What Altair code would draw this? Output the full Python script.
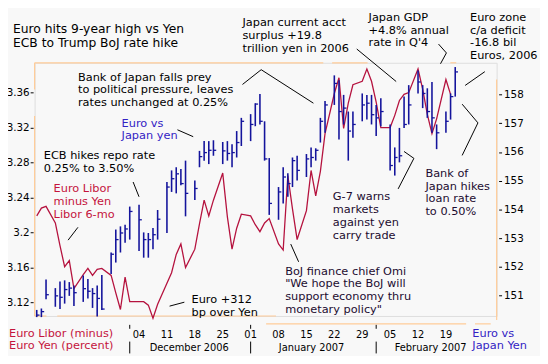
import altair as alt
import pandas as pd

# ---------------- data ----------------
dates = [
    "2006-11-08", "2006-11-09", "2006-11-10",
    "2006-11-13", "2006-11-14", "2006-11-15", "2006-11-16", "2006-11-17",
    "2006-11-20", "2006-11-21", "2006-11-22", "2006-11-23", "2006-11-24",
    "2006-11-27", "2006-11-28", "2006-11-29", "2006-11-30", "2006-12-01",
    "2006-12-04", "2006-12-05", "2006-12-06", "2006-12-07", "2006-12-08",
    "2006-12-11", "2006-12-12", "2006-12-13", "2006-12-14", "2006-12-15",
    "2006-12-18", "2006-12-19", "2006-12-20", "2006-12-21", "2006-12-22",
    "2006-12-25", "2006-12-26", "2006-12-27", "2006-12-28", "2006-12-29",
    "2007-01-01", "2007-01-02", "2007-01-03", "2007-01-04", "2007-01-05",
    "2007-01-08", "2007-01-09", "2007-01-10", "2007-01-11", "2007-01-12",
    "2007-01-15", "2007-01-16", "2007-01-17", "2007-01-18", "2007-01-19",
    "2007-01-22", "2007-01-23", "2007-01-24", "2007-01-25", "2007-01-26",
    "2007-01-29", "2007-01-30", "2007-01-31", "2007-02-01", "2007-02-02",
    "2007-02-05", "2007-02-06", "2007-02-07", "2007-02-08", "2007-02-09",
    "2007-02-12", "2007-02-13", "2007-02-14", "2007-02-15", "2007-02-16",
    "2007-02-19", "2007-02-20", "2007-02-21",
]

eur_high = [
    150.50, 150.55, 151.56,
    151.26, 151.49, 151.53, 151.47, 151.35,
    151.70, 151.58, 151.26, 151.35, 151.72,
    152.50, 153.30, 153.41, 153.47, 154.10,
    154.16, 153.20, 153.18, 153.35, 153.98,
    154.96, 155.36, 155.47, 155.41, 155.70,
    155.01, 156.04, 156.38, 156.38, 156.41,
    156.35, 156.38, 156.27, 156.73, 157.19,
    157.32, 157.70, 158.02, 157.07, 155.79,
    154.78, 155.47, 155.26, 155.81, 155.87,
    155.93, 156.16, 156.13, 157.19, 157.78,
    158.67, 158.50, 157.99, 157.41, 157.41,
    158.04, 157.99, 157.99, 157.64, 157.87,
    156.96, 156.16, 156.84, 157.93, 158.33,
    158.84, 158.33, 158.22, 158.44, 156.96,
    157.41, 158.04, 158.96,
]

eur_low = [
    150.25, 150.25, 150.87,
    150.61, 150.53, 150.72, 150.99, 150.64,
    150.78, 150.90, 150.57, 150.27, 150.50,
    151.75, 152.15, 152.50, 152.84, 152.95,
    152.55, 152.32, 152.32, 152.61, 152.95,
    153.18, 154.61, 154.56, 154.84, 153.76,
    154.33, 155.47, 155.70, 155.58, 155.87,
    155.58, 155.70, 155.47, 155.81, 156.21,
    156.38, 156.90, 156.96, 155.70, 153.81,
    153.64, 154.21, 154.44, 154.78, 155.01,
    155.13, 155.47, 155.70, 156.33, 156.67,
    157.64, 156.44, 156.96, 155.70, 156.50,
    157.07, 157.13, 156.96, 156.56, 156.90,
    155.36, 155.18, 155.64, 156.84, 156.96,
    158.04, 157.53, 157.19, 156.67, 156.10,
    156.67, 157.13, 157.93,
]

eur_close = [
    150.32, 150.44, 151.03,
    150.99, 150.94, 151.21, 151.26, 151.10,
    151.24, 151.15, 151.07, 150.90, 150.53,
    152.44, 152.95, 153.18, 153.32, 153.93,
    153.64, 152.95, 152.95, 153.12, 153.66,
    154.78, 155.07, 155.24, 154.90, 154.56,
    154.73, 155.84, 155.98, 156.06, 156.06,
    156.04, 155.95, 155.98, 156.33, 157.07,
    156.96, 157.67, 157.07, 155.76, 154.21,
    154.61, 155.13, 154.90, 155.70, 155.36,
    155.76, 155.81, 156.06, 157.07, 157.64,
    158.39, 157.41, 157.53, 156.73, 156.96,
    157.64, 157.70, 157.30, 157.19, 157.41,
    155.53, 155.81, 155.87, 156.96, 157.64,
    158.44, 158.04, 157.41, 157.19, 156.67,
    157.07, 157.93, 158.79,
]

# Euro Libor minus Yen Libor, 6-month (percent)
spread = [
    3.219, 3.228, 3.230,
    3.211, 3.185, 3.161, 3.168, 3.136,
    3.152, 3.159, 3.151, 3.158, 3.159,
    3.151, 3.131, 3.112, 3.149, 3.121,
    3.121, 3.121, 3.117, 3.102, 3.118,
    3.142, 3.154, 3.175, 3.187, 3.160,
    3.181, 3.210, 3.237, 3.219, 3.237,
    3.268, 3.218, 3.181, 3.205, 3.221,
    3.219, 3.209, 3.201, 3.211, 3.216,
    3.187, 3.180, 3.265, 3.227, 3.192,
    3.225, 3.271, 3.242, 3.270, 3.313,
    3.359, 3.377, 3.319, 3.348, 3.369,
    3.373, 3.387, 3.373, 3.349, 3.320,
    3.320, 3.334, 3.351, 3.358, 3.360,
    3.387, 3.364, 3.335, 3.313, 3.330,
    3.375, 3.358,
]

week_labels = ["04", "11", "18", "25", "01", "08", "15", "22", "29", "05", "12", "19"]
week_dates = ["2006-12-04", "2006-12-11", "2006-12-18", "2006-12-25", "2007-01-01",
              "2007-01-08", "2007-01-15", "2007-01-22", "2007-01-29", "2007-02-05",
              "2007-02-12", "2007-02-19"]
months = ["December 2006", "January 2007", "February 2007"]
month_starts = ["2006-12-01", "2007-01-01", "2007-02-01"]

left_ticks = [3.12, 3.16, 3.20, 3.24, 3.28, 3.32, 3.36]
right_ticks = [151, 152, 153, 154, 155, 156, 157, 158]


# trading-day slot: six slots per week, Monday of 4 Dec 2006 = 0
def slot(d):
    t = pd.Timestamp(d)
    delta = (t - pd.Timestamp("2006-12-04")).days
    return (delta // 7) * 6 + t.weekday()


bars = pd.DataFrame({
    "s": [slot(d) for d in dates],
    "hi": eur_high, "lo": eur_low, "c": eur_close,
})
line_df = pd.DataFrame({"s": [slot(d) for d in dates[:len(spread)]], "v": spread})

week_df = pd.DataFrame({"s": [slot(d) for d in week_dates], "t": week_labels})
sep_slots = [slot(d) if pd.Timestamp(d).weekday() < 5 else slot(d) + 7 for d in month_starts]
month_df = pd.DataFrame({"m": months, "s": [10.8, 37.1, 62.7]})
sep_df = pd.DataFrame({"s": sep_slots})

# ---------------- style ----------------
RED = "#b5123e"
BLUE = "#14149c"
TXT_BLUE = "#3322c4"
TXT_RED = "#c4143c"
ORANGE = "#ffcc99"
FONT = "DejaVu Sans"
W, H = 469, 257

xs = alt.Scale(domain=[-22.46, 76.91], nice=False, zero=False)
yl = alt.Scale(domain=[3.1046, 3.3941], nice=False, zero=False)
yr = alt.Scale(domain=[150.289, 159.108], nice=False, zero=False)

left_axis = alt.Axis(values=left_ticks, format=".2~f", domain=False, grid=False, title=None,
                     tickSize=3, offset=1.5, labelPadding=1, tickColor="black",
                     labelFontSize=10.5, labelColor="black", labelFont=FONT)
right_axis = alt.Axis(orient="right", values=right_ticks, format="d", domain=False, grid=False,
                      title=None, tickSize=3, offset=2, labelPadding=2, tickColor="black",
                      labelFontSize=10.5, labelColor="black", labelFont=FONT)

red_line = alt.Chart(line_df).mark_line(color=RED, strokeWidth=1.3).encode(
    x=alt.X("s:Q", scale=xs, axis=None),
    y=alt.Y("v:Q", scale=yl, axis=left_axis),
)

bar_rules = alt.Chart(bars).mark_rule(color=BLUE, strokeWidth=1.6).encode(
    x=alt.X("s:Q", scale=xs, axis=None),
    y=alt.Y("hi:Q", scale=yr, axis=right_axis),
    y2="lo:Q",
)

close_ticks = alt.Chart(bars).transform_calculate(s2="datum.s + 0.6").mark_rule(
    color=BLUE, strokeWidth=1.3).encode(
    x=alt.X("s:Q", scale=xs, axis=None),
    x2="s2:Q",
    y=alt.Y("c:Q", scale=yr, axis=None),
)

# weekly day labels, month labels and separators under the plot
day_text = alt.Chart(week_df).mark_text(fontSize=10, font=FONT, color="black",
                                        baseline="alphabetic").encode(
    x=alt.X("s:Q", scale=xs, axis=None), y=alt.value(279.7), text="t:N")
month_text = alt.Chart(month_df).mark_text(fontSize=10, font=FONT, color="black",
                                           baseline="alphabetic").encode(
    x=alt.X("s:Q", scale=xs, axis=None), y=alt.value(293), text="m:N")
sep_long = alt.Chart(sep_df).mark_rule(color="black", strokeWidth=1).encode(
    x=alt.X("s:Q", scale=xs, axis=None), y=alt.value(283), y2=alt.value(295))
sep_short = alt.Chart(sep_df).mark_rule(color="black", strokeWidth=1).encode(
    x=alt.X("s:Q", scale=xs, axis=None), y=alt.value(266), y2=alt.value(270))

# orange frame segments (plot pixel coords)
frame = pd.DataFrame([
    (0, 0, 293, 0), (302, 0, 338, 0), (422, 0, 428, 0),
    (0, 0, 0, 27), (0, 54, 0, 257),
    (0, 257, 12, 257), (23, 257, 245, 257),
    (235, 265, 438, 265), (447, 265, 463, 265),
    (469, 17, 469, 261),
], columns=["x", "y", "x2", "y2"])
frame_chart = alt.Chart(frame).mark_rule(color=ORANGE, strokeWidth=1.2).encode(
    x=alt.X("x:Q", scale=None, axis=None), x2="x2:Q",
    y=alt.Y("y:Q", scale=None, axis=None), y2="y2:Q")

# annotation texts (page pixel coords, converted to plot coords)
OX, OY = 35, 61
notes = [
    ("Bank of Japan falls prey\nto political pressure, leaves\nrates unchanged at 0.25%", 79, 79, "black"),
    ("Japan current acct\nsurplus +19.8\ntrillion yen in 2006", 246, 24, "black"),
    ("Japan GDP\n+4.8% annual\nrate in Q'4", 374, 18.3, "black"),
    ("Euro zone\nc/a deficit\n-16.8 bil\nEuros, 2006", 477, 18.3, "black"),
    ("Euro vs\nJapan yen", 123.3, 125.7, TXT_BLUE),
    ("ECB hikes repo rate\n0.25% to 3.50%", 44.3, 159, "black"),
    ("Euro Libor\nminus Yen\nLibor 6-mo", 54.3, 192.3, TXT_RED),
    ("Euro +312\nbp over Yen", 194.3, 305, "black"),
    ("BoJ finance chief Omi\n\"We hope the BoJ will\nsupport economy thru\nmonetary policy\"", 289.3, 276, "#1c0c30"),
    ("G-7 warns\nmarkets\nagainst yen\ncarry trade", 337.7, 200.7, "#1c0c30"),
    ("Bank of\nJapan hikes\nloan rate\nto 0.50%", 431.7, 176.7, "#1c0c30"),
    ("Euro Libor (minus)\nEuro Yen (percent)", 9, 339, TXT_RED),
    ("Euro vs\nJapan Yen", 479.3, 339, TXT_BLUE),
]
notes_df = pd.DataFrame([(t, x - OX, y - OY, c) for t, x, y, c in notes],
                        columns=["text", "px", "py", "color"])
notes_chart = alt.Chart(notes_df).mark_text(
    align="left", baseline="alphabetic", fontSize=11.5, lineHeight=13, lineBreak="\n",
    font=FONT).encode(
    x=alt.X("px:Q", scale=None, axis=None), y=alt.Y("py:Q", scale=None, axis=None),
    text="text:N", color=alt.Color("color:N", scale=None))

title_df = pd.DataFrame({"text": ["Euro hits 9-year high vs Yen\nECB to Trump BoJ rate hike"],
                         "px": [13 - OX], "py": [30.7 - OY]})
title_chart = alt.Chart(title_df).mark_text(
    align="left", baseline="alphabetic", fontSize=12.5, lineHeight=14.3, lineBreak="\n",
    font=FONT, color="black").encode(
    x=alt.X("px:Q", scale=None, axis=None), y=alt.Y("py:Q", scale=None, axis=None),
    text="text:N")

# leader lines (page pixel coords)
leaders = [
    [(246, 83), (265, 68), (318, 102)],
    [(362, 47), (402, 80)],
    [(445, 42), (453, 51), (447, 62)],
    [(492, 70), (472, 84)],
    [(180, 129), (196, 136)],
    [(135, 182), (141, 197)],
    [(79, 228), (69, 241)],
    [(172, 308), (187, 304)],
    [(295, 245), (303, 263)],
    [(410, 151), (420, 158), (404, 189)],
    [(469, 103), (485, 122), (469, 155)],
]
lead_rows = []
for i, pts in enumerate(leaders):
    for j, (x, y) in enumerate(pts):
        lead_rows.append((i, j, x - OX, y - OY))
lead_df = pd.DataFrame(lead_rows, columns=["id", "o", "px", "py"])
lead_chart = alt.Chart(lead_df).mark_line(color="black", strokeWidth=1).encode(
    x=alt.X("px:Q", scale=None, axis=None), y=alt.Y("py:Q", scale=None, axis=None),
    detail="id:N", order="o:Q")

chart = alt.layer(
    frame_chart, red_line, bar_rules, close_ticks, day_text, month_text, sep_long, sep_short,
    lead_chart, notes_chart, title_chart,
).resolve_scale(y="independent").properties(
    width=W, height=H,
    autosize=alt.AutoSizeParams(type="none"),
    padding={"left": 27, "top": 53, "right": 44, "bottom": 38},
    background="#f8f8f8",
).configure_view(stroke=None).configure(font=FONT)

chart.save("out.html", embed_options={"renderer": "svg", "actions": False})
